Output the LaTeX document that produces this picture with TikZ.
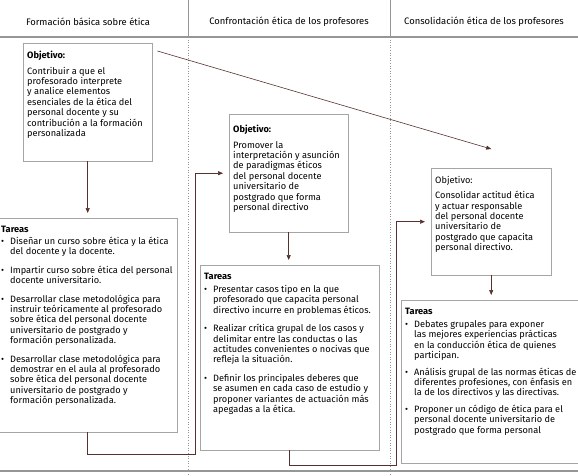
\documentclass[tikz,border=0pt]{standalone}
\usepackage{fontspec}
\setmainfont{Fira Sans}
\usetikzlibrary{arrows.meta, positioning, calc}
\definecolor{brownarr}{RGB}{85,50,45}
\definecolor{boxline}{RGB}{165,165,165}
\definecolor{rulegray}{RGB}{150,150,150}
\newcommand{\tfont}{\fontsize{9.2}{10.4}\selectfont}
% one bullet of a task list, hanging indent
\newcommand{\tarea}[2][8pt]{\par\vspace{#1}\hangindent=9pt\hangafter=1\noindent\makebox[9pt][l]{\textbullet}#2}
% box text: fixed width and height, text at the top
\newcommand{\caja}[3]{\makebox[#1][l]{\parbox[t][#2][t]{260pt}{#3}}}
\tikzset{
  basebox/.style={rectangle,draw=boxline,fill=white,anchor=north west,inner xsep=4pt,inner ysep=8pt,font=\tfont},
  headtext/.style={font=\fontsize{9.4}{10}\selectfont},
  arr/.style={-{Triangle[length=5pt,width=4pt]},color=brownarr,line width=0.6pt},
  seprule/.style={draw=rulegray,line width=1.6pt},
  coldots/.style={draw=rulegray,dotted,line width=0.6pt}
}

\begin{document}
\begin{tikzpicture}[x=1pt,y=-1pt]
  \useasboundingbox (0,0) rectangle (578,476);

  % header and column rules
  \node[headtext] (hd1) at (88,22) {Formación básica sobre ética};
  \node[headtext] (hd2) at (289,22) {Confrontación ética de los profesores};
  \node[headtext] (hd3) at (484,22) {Consolidación ética de los profesores};
  \draw[draw=rulegray,line width=0.8pt] (188,0) -- (188,37) (390,0) -- (390,37);
  \draw[coldots] (188,37) -- (188,476) (390,37) -- (390,476);
  \draw[seprule] (0,37) -- (578,37);
  \draw[seprule,line width=2.6pt] (0,471) -- (578,471);

  % objetivos
  \node[basebox] (obj1) at (23,43) {\caja{121pt}{102pt}{\textbf{Objetivo:}\\[5pt]
    Contribuir a que el\\ profesorado interprete\\ y analice elementos\\
    esenciales de la ética del\\ personal docente y su\\
    contribución a la formación\\ personalizada}};
  \node[basebox] (obj2) at (229,114) {\caja{111pt}{102pt}{\vspace*{3pt}\textbf{Objetivo:}\\[5pt]
    Promover la\\ interpretación y asunción\\ de paradigmas éticos\\
    del personal docente\\ universitario de\\ postgrado que forma\\ personal directivo}};
  \node[basebox] (obj3) at (431,168) {\caja{112pt}{91pt}{Objetivo:\\[5pt]
    Consolidar actitud ética\\ y actuar responsable\\ del personal docente\\
    universitario de\\ postgrado que capacita\\ personal directivo.}};

  % tareas
  \node[basebox] (tsk1) at (-3,218) {\caja{172pt}{198pt}{\textbf{Tareas}
    \tarea[1.5pt]{Diseñar un curso sobre ética y la ética\\ del docente y la docente.}
    \tarea{Impartir curso sobre ética del personal\\ docente universitario.}
    \tarea{Desarrollar clase metodológica para\\ instruir teóricamente al profesorado\\
      sobre ética del personal docente\\ universitario de postgrado y\\ formación personalizada.}
    \tarea{Desarrollar clase metodológica para\\ demostrar en el aula al profesorado\\
      sobre ética del personal docente\\ universitario de postgrado y\\ formación personalizada.}}};
  \node[basebox] (tsk2) at (200,265) {\caja{171pt}{169pt}{\textbf{Tareas}
    \tarea[2.5pt]{Presentar casos tipo en la que\\ profesorado que capacita personal\\
      directivo incurre en problemas éticos.}
    \tarea{Realizar crítica grupal de los casos y\\ delimitar entre las conductas o las\\
      actitudes convenientes o nocivas que\\ refleja la situación.}
    \tarea{Definir los principales deberes que\\ se asumen en cada caso de estudio y\\
      proponer variantes de actuación más\\ apegadas a la ética.}}};
  \node[basebox] (tsk3) at (401,300) {\caja{190pt}{147pt}{\textbf{Tareas}
    \tarea[2.5pt]{Debates grupales para exponer\\ las mejores experiencias prácticas\\
      en la conducción ética de quienes\\ participan.}
    \tarea[6pt]{Análisis grupal de las normas éticas de\\ diferentes profesiones, con énfasis en\\
      la de los directivos y las directivas.}
    \tarea[6pt]{Proponer un código de ética para el\\ personal docente universitario de\\
      postgrado que forma personal}}};

  % connectors
  \coordinate (c1) at (195,454);
  \coordinate (c2) at (396,465);
  \draw[arr,shorten >=5pt] (obj1.south) -- (obj1.south |- tsk1.north);
  \draw[arr,shorten >=5pt] (obj2.south) -- (obj2.south |- tsk2.north);
  \draw[arr,shorten >=5pt] (obj3.south) -- (obj3.south |- tsk3.north);
  \draw[arr,shorten >=6pt] (tsk1.south) |- (c1) |- (obj2.west);
  \draw[arr,shorten >=6pt] (tsk2.south) |- (c2) |- (obj3.west);
  \draw[arr] ([xshift=5pt,yshift=-8pt]obj1.north east) -- ([yshift=19pt]obj3.north);
\end{tikzpicture}
\end{document}
